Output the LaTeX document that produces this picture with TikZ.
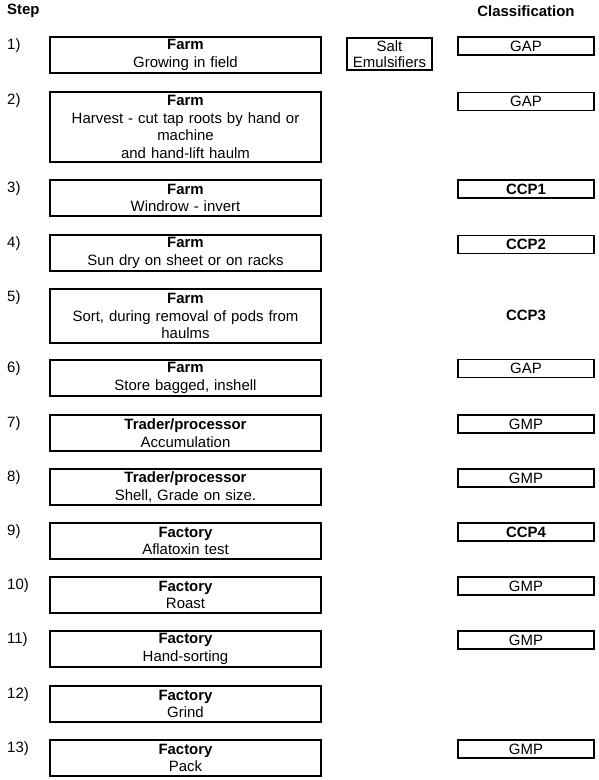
\documentclass[tikz,border=0pt]{standalone}
\usepackage{fontspec}
\setmainfont{Liberation Sans}
\begin{document}
\begin{tikzpicture}[x=1bp,y=-1bp,
  every node/.style={font=\fontsize{15}{17.5}\selectfont},
  mainbox/.style={draw, line width=1.5bp, inner xsep=2bp, inner ysep=0pt, text width=267bp, align=center, minimum width=271bp},
  clsbox/.style={draw, line width=1.5bp, inner sep=0pt, minimum width=136bp, minimum height=18bp, align=center},
  steplbl/.style={anchor=west, inner sep=0pt},
  hdr/.style={inner sep=0pt, font=\fontsize{15}{17.5}\selectfont\bfseries}]
\useasboundingbox (0,0) rectangle (599,780);
% headers
\node[hdr, anchor=west] (hstep) at (7,11) {Step};
\node[hdr] (hcls) at (526,11) {Classification};
% main boxes
\node[mainbox, minimum height=36bp] (m1) at (185.5,55) {\textbf{Farm}\\Growing in field};
\node[mainbox, minimum height=70bp] (m2) at (185.5,127) {\textbf{Farm}\\Harvest - cut tap roots by hand or\\machine\\and hand-lift haulm};
\node[mainbox, minimum height=36bp] (m3) at (185.5,198) {\textbf{Farm}\\Windrow - invert};
\node[mainbox, minimum height=36bp] (m4) at (185.5,253) {\textbf{Farm}\\Sun dry on sheet or on racks};
\node[mainbox, minimum height=54bp] (m5) at (185.5,316) {\textbf{Farm}\\Sort, during removal of pods from\\haulms};
\node[mainbox, minimum height=36bp] (m6) at (185.5,378) {\textbf{Farm}\\Store bagged, inshell};
\node[mainbox, minimum height=36bp] (m7) at (185.5,433) {\textbf{Trader/processor}\\Accumulation};
\node[mainbox, minimum height=36bp] (m8) at (185.5,487) {\textbf{Trader/processor}\\Shell, Grade on size.};
\node[mainbox, minimum height=36bp] (m9) at (185.5,541) {\textbf{Factory}\\Aflatoxin test};
\node[mainbox, minimum height=36bp] (m10) at (185.5,595) {\textbf{Factory}\\Roast};
\node[mainbox, minimum height=36bp] (m11) at (185.5,649) {\textbf{Factory}\\Hand-sorting};
\node[mainbox, minimum height=36bp] (m12) at (185.5,704) {\textbf{Factory}\\Grind};
\node[mainbox, minimum height=36bp] (m13) at (185.5,758) {\textbf{Factory}\\Pack};
% step labels
\node[steplbl] (s1) at (7,46) {1)};
\node[steplbl] (s2) at (7,101) {2)};
\node[steplbl] (s3) at (7,189) {3)};
\node[steplbl] (s4) at (7,244) {4)};
\node[steplbl] (s5) at (7,298) {5)};
\node[steplbl] (s6) at (7,369) {6)};
\node[steplbl] (s7) at (7,424) {7)};
\node[steplbl] (s8) at (7,478) {8)};
\node[steplbl] (s9) at (7,532) {9)};
\node[steplbl] (s10) at (7,586) {10)};
\node[steplbl] (s11) at (7,640) {11)};
\node[steplbl] (s12) at (7,695) {12)};
\node[steplbl] (s13) at (7,749) {13)};
% salt box
\node[draw, line width=1.5bp, inner sep=0pt, minimum width=85bp, minimum height=32bp, align=center, font=\fontsize{15}{16.5}\selectfont] (salt) at (389.5,54) {Salt\\Emulsifiers};
% classification
\node[clsbox] (c1) at (526,46) {GAP};
\node[clsbox] (c2) at (526,101.5) {GAP};
\node[clsbox] (c3) at (526,189) {\textbf{CCP1}};
\node[clsbox] (c4) at (526,244.5) {\textbf{CCP2}};
\node[inner sep=0pt] (c5) at (526,315) {\textbf{CCP3}};
\node[clsbox] (c6) at (526,368.5) {GAP};
\node[clsbox] (c7) at (526,424) {GMP};
\node[clsbox] (c8) at (526,478) {GMP};
\node[clsbox] (c9) at (526,532) {\textbf{CCP4}};
\node[clsbox] (c10) at (526,586) {GMP};
\node[clsbox] (c11) at (526,640) {GMP};
\node[clsbox] (c13) at (526,749) {GMP};
\end{tikzpicture}
\end{document}
